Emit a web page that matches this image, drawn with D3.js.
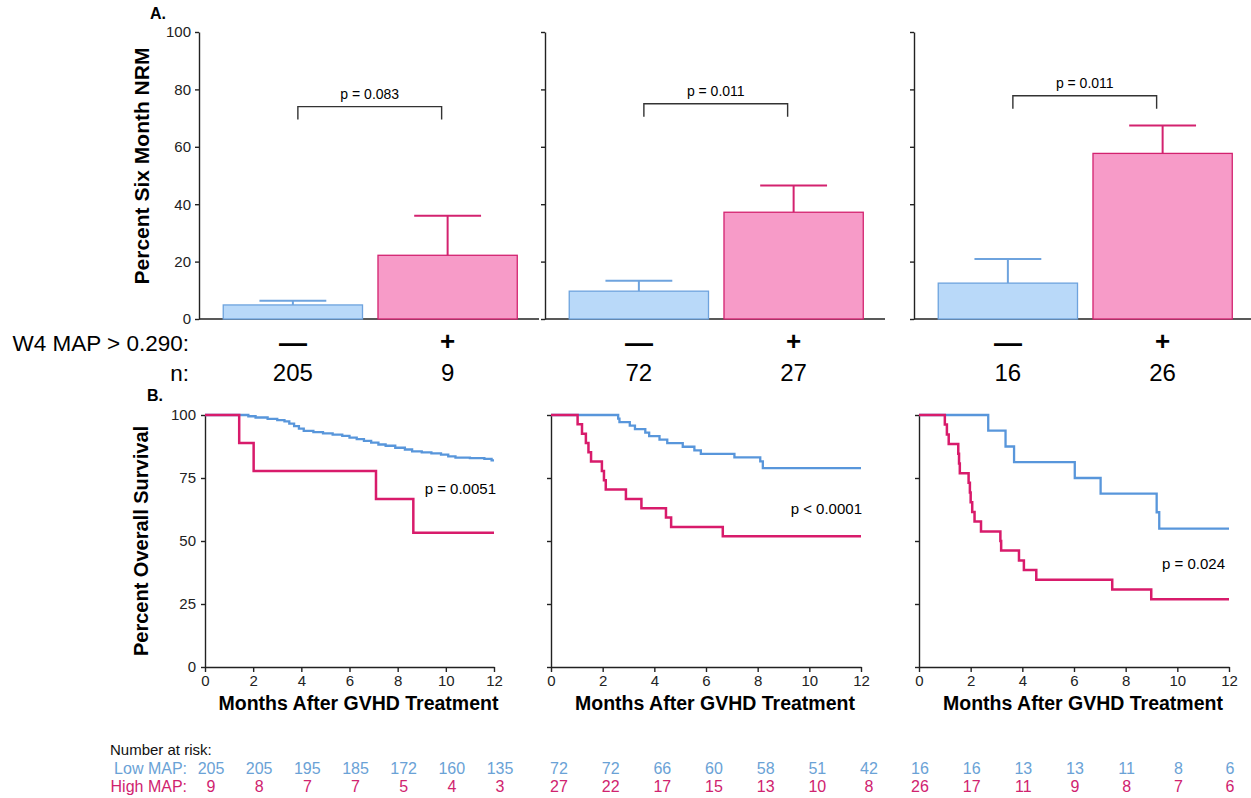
<!DOCTYPE html>
<html>
<head>
<meta charset="utf-8">
<script src="https://cdn.jsdelivr.net/npm/d3@7"></script>
<style>
  body { margin: 0; background: #fff; }
  svg { font-family: "Liberation Sans", Arial, Helvetica, sans-serif; }
  .axis path, .axis line { stroke: #222; stroke-width: 1.4; }
  .axis text { font-size: 15px; fill: #222; }
</style>
</head>
<body>
<svg id="chart" width="1251" height="798"></svg>
<script>
// ---- panel A: six month NRM ----
const groups = ['—', '+'];
const nrmMean = [[4.9, 22.2], [9.7, 37.2], [12.5, 57.7]];
const nrmUpper = [[6.4, 36.0], [13.3, 46.5], [20.9, 67.4]];
const nrmN = [[205, 9], [72, 27], [16, 26]];
const nrmP = ['p = 0.083', 'p = 0.011', 'p = 0.011'];
const nrmTicks = [0, 20, 40, 60, 80, 100];

// ---- panel B: overall survival (month, percent) ----
const lowMapCurves = [
  [[0, 100], [1.8, 99.5], [2.1, 99.0], [2.6, 98.5], [3.0, 98.0], [3.3, 97.5], [3.5, 96.6], [3.7, 95.6],
   [3.9, 94.6], [4.1, 93.7], [4.5, 93.2], [4.9, 92.7], [5.3, 92.2], [5.7, 91.7], [6.0, 91.0], [6.3, 90.4],
   [6.6, 89.7], [6.9, 89.0], [7.2, 88.3], [7.5, 87.8], [7.9, 87.0], [8.3, 86.3], [8.6, 85.6], [9.0, 85.2],
   [9.4, 84.8], [9.8, 84.3], [10.1, 83.6], [10.4, 83.1], [11.0, 82.9], [11.6, 82.6], [11.9, 82.0], [12, 82.0]],
  [[0, 100], [2.6, 98.6], [2.65, 97.2], [3.05, 95.8], [3.25, 94.4], [3.65, 93.0], [3.8, 91.6], [4.2, 90.2],
   [4.5, 88.8], [5.1, 87.4], [5.55, 86.0], [5.8, 84.6], [7.1, 83.2], [8.1, 81.6], [8.2, 78.9], [12, 78.9]],
  [[0, 100], [2.68, 93.8], [3.35, 87.5], [3.68, 81.3], [6.03, 75.0], [7.03, 68.8], [9.2, 61.4], [9.3, 54.9], [12, 54.9]]
];
const highMapCurves = [
  [[0, 100], [1.42, 88.9], [2.02, 77.8], [7.1, 66.7], [8.65, 53.3], [12, 53.3]],
  [[0, 100], [1.03, 96.3], [1.2, 92.6], [1.35, 88.9], [1.45, 85.2], [1.55, 81.5], [1.97, 77.8], [2.05, 74.1],
   [2.12, 70.4], [2.9, 66.7], [3.5, 63.0], [4.45, 59.3], [4.65, 55.6], [6.65, 51.9], [12, 51.9]],
  [[0, 100], [1.0, 96.2], [1.08, 92.3], [1.15, 88.5], [1.52, 84.6], [1.55, 80.8], [1.58, 76.9], [1.92, 73.1],
   [1.97, 69.2], [2.0, 65.4], [2.06, 61.5], [2.15, 57.7], [2.4, 53.8], [3.15, 50.0], [3.18, 46.2], [3.87, 42.3],
   [4.06, 38.5], [4.54, 34.6], [7.48, 30.8], [8.99, 26.9], [12, 26.9]]
];
const osP = ['p = 0.0051', 'p < 0.0001', 'p = 0.024'];
const osTicks = [0, 25, 50, 75, 100];
const monthTicks = [0, 2, 4, 6, 8, 10, 12];

// ---- number at risk ----
const riskTimes = [0, 2, 4, 6, 8, 10, 12];
const lowRisk = [[205, 205, 195, 185, 172, 160, 135], [72, 72, 66, 60, 58, 51, 42], [16, 16, 13, 13, 11, 8, 6]];
const highRisk = [[9, 8, 7, 7, 5, 4, 3], [27, 22, 17, 15, 13, 10, 8], [26, 17, 11, 9, 8, 7, 6]];

const blueFill = '#b9d9f9', blueStroke = '#6ea3de', blueLine = '#5896db', blueText = '#6aa2d6';
const pinkFill = '#f79bc8', pinkStroke = '#d3226f', pinkLine = '#d81b6b', pinkText = '#d0236f';

const svg = d3.select('#chart');

// layout
const aLeft = [199, 545, 914];
const aWidth = 340;
const aTop = 32, aBottom = 319;
const bracketAt = [74, 75, 77.8];
const bLeft = [205, 551, 919];
const bWidths = [289, 310, 310];
const bTop = 415, bBottom = 667;
const riskShift = [6, 8, 1];

const yA = d3.scaleLinear().domain([0, 100]).range([aBottom, aTop]);
const xA = d3.scaleBand().domain(groups).range([16.5, 326]).paddingInner(0.1).paddingOuter(0.05);

svg.append('text').attr('x', 150).attr('y', 19).attr('font-weight', 'bold').attr('font-size', 16).text('A.');

aLeft.forEach((left, i) => {
  const g = svg.append('g').attr('transform', `translate(${left},0)`);

  g.append('g').attr('class', 'axis')
    .call(d3.axisLeft(yA).tickValues(nrmTicks).tickSize(4).tickSizeOuter(0).tickPadding(4)
      .tickFormat(i === 0 ? d3.format('d') : () => ''));

  g.append('line').attr('x1', 0).attr('x2', aWidth).attr('y1', yA(0)).attr('y2', yA(0))
    .attr('stroke', '#222').attr('stroke-width', 1.4);

  groups.forEach((grp, j) => {
    const x0 = xA(grp), bw = xA.bandwidth(), cx = x0 + bw / 2;
    const fill = j === 0 ? blueFill : pinkFill, stroke = j === 0 ? blueStroke : pinkStroke;
    // error bar
    g.append('line').attr('x1', cx).attr('x2', cx)
      .attr('y1', yA(nrmMean[i][j])).attr('y2', yA(nrmUpper[i][j]))
      .attr('stroke', stroke).attr('stroke-width', 2);
    g.append('line').attr('x1', cx - bw * 0.24).attr('x2', cx + bw * 0.24)
      .attr('y1', yA(nrmUpper[i][j])).attr('y2', yA(nrmUpper[i][j]))
      .attr('stroke', stroke).attr('stroke-width', 2);
    g.append('rect').attr('x', x0).attr('width', bw)
      .attr('y', yA(nrmMean[i][j])).attr('height', yA(0) - yA(nrmMean[i][j]))
      .attr('fill', fill).attr('stroke', stroke).attr('stroke-width', 1.3);

    g.append('text').attr('x', cx).attr('y', grp === '+' ? 350 : 352).attr('text-anchor', 'middle')
      .attr('font-size', grp === '+' ? 26 : 28).attr('font-weight', 'bold').text(grp);
    g.append('text').attr('x', cx).attr('y', 381).attr('text-anchor', 'middle')
      .attr('font-size', 24).text(nrmN[i][j]);
  });

  // significance bracket
  const bx1 = xA(groups[0]) + xA.bandwidth() / 2 + 5;
  const bx2 = xA(groups[1]) + xA.bandwidth() / 2 - 6;
  const by = yA(bracketAt[i]);
  g.append('path').attr('d', `M${bx1},${by + 13}V${by}H${bx2}V${by + 13}`)
    .attr('fill', 'none').attr('stroke', '#333').attr('stroke-width', 1.4);
  g.append('text').attr('x', (bx1 + bx2) / 2).attr('y', by - 8).attr('text-anchor', 'middle')
    .attr('font-size', 14).text(nrmP[i]);
});

svg.append('text').attr('transform', `translate(149,166) rotate(-90)`)
  .attr('text-anchor', 'middle').attr('font-size', 21).attr('font-weight', 'bold').text('Percent Six Month NRM');
svg.append('text').attr('x', 189).attr('y', 351).attr('text-anchor', 'end').attr('font-size', 22.5).text('W4 MAP > 0.290:');
svg.append('text').attr('x', 189).attr('y', 381).attr('text-anchor', 'end').attr('font-size', 22.5).text('n:');

// ---- panel B ----
svg.append('text').attr('x', 147).attr('y', 401).attr('font-weight', 'bold').attr('font-size', 16).text('B.');

const yB = d3.scaleLinear().domain([0, 100]).range([bBottom, bTop]);
const pPos = [[496, 494], [862, 514], [1225, 569]];

bLeft.forEach((left, i) => {
  const xB = d3.scaleLinear().domain([0, 12]).range([0, bWidths[i]]);
  const line = d3.line().x(d => xB(d[0])).y(d => yB(d[1])).curve(d3.curveStepAfter);
  const g = svg.append('g').attr('transform', `translate(${left},0)`);
  g.append('g').attr('class', 'axis')
    .call(d3.axisLeft(yB).tickValues(osTicks).tickSize(4).tickSizeOuter(0).tickPadding(5)
      .tickFormat(i === 0 ? d3.format('d') : () => ''));
  g.append('g').attr('class', 'axis').attr('transform', `translate(0,${bBottom})`)
    .call(d3.axisBottom(xB).tickValues(monthTicks).tickSize(5).tickSizeOuter(0).tickPadding(3));

  g.append('path').datum(lowMapCurves[i]).attr('d', line)
    .attr('fill', 'none').attr('stroke', blueLine).attr('stroke-width', 2.3);
  g.append('path').datum(highMapCurves[i]).attr('d', line)
    .attr('fill', 'none').attr('stroke', pinkLine).attr('stroke-width', 2.5);

  g.append('text').attr('x', bWidths[i] / 2 + 9).attr('y', 710).attr('text-anchor', 'middle')
    .attr('font-size', 19.5).attr('font-weight', 'bold').text('Months After GVHD Treatment');

  svg.append('text').attr('x', pPos[i][0]).attr('y', pPos[i][1]).attr('text-anchor', 'end')
    .attr('font-size', 15).text(osP[i]);

  // number at risk columns follow the month scale
  riskTimes.forEach((t, k) => {
    svg.append('text').attr('x', left + xB(t) + riskShift[i]).attr('y', 774).attr('text-anchor', 'middle')
      .attr('font-size', 16).attr('fill', blueText).text(lowRisk[i][k]);
    svg.append('text').attr('x', left + xB(t) + riskShift[i]).attr('y', 792).attr('text-anchor', 'middle')
      .attr('font-size', 16).attr('fill', pinkText).text(highRisk[i][k]);
  });
});

svg.append('text').attr('transform', `translate(148,541) rotate(-90)`)
  .attr('text-anchor', 'middle').attr('font-size', 20).attr('font-weight', 'bold').text('Percent Overall Survival');

svg.append('text').attr('x', 110).attr('y', 755).attr('font-size', 15).attr('fill', '#111').text('Number at risk:');
svg.append('text').attr('x', 187).attr('y', 774).attr('text-anchor', 'end').attr('font-size', 16).attr('fill', blueText).text('Low MAP:');
svg.append('text').attr('x', 187).attr('y', 792).attr('text-anchor', 'end').attr('font-size', 16).attr('fill', pinkText).text('High MAP:');
</script>
</body>
</html>
